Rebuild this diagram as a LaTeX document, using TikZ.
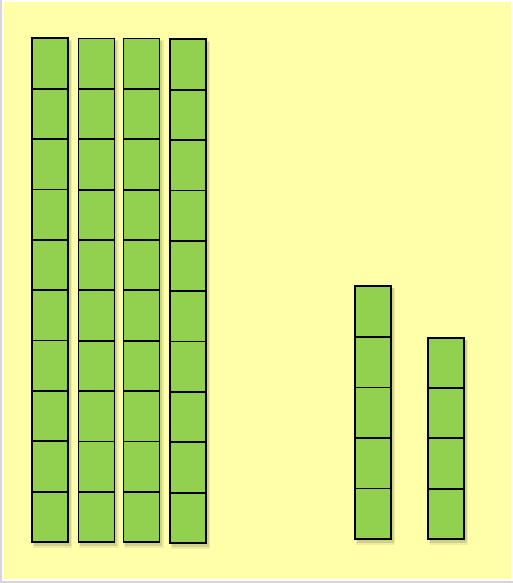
\documentclass[tikz,border=0pt]{standalone}
\definecolor{bgyellow}{HTML}{FFFFAA}
\definecolor{cubegreen}{HTML}{92D050}
\definecolor{framegrey}{HTML}{D6D6D6}
\begin{document}
\begin{tikzpicture}[x=1pt,y=-1pt,
  cube/.style={draw=black,line width=1.8pt,fill=cubegreen,minimum width=36pt,
    minimum height=50.4pt,inner sep=0pt,outer sep=0pt,anchor=north west},
  shadowsoft/.style={fill=black,opacity=0.07},
  shadowcore/.style={fill=black,opacity=0.12}]
\useasboundingbox (0,0) rectangle (513,583);
\fill[white] (0,0) rectangle (513,583);
\fill[framegrey] (0,0) rectangle (2,583);
\fill[framegrey] (0,581) rectangle (513,583);
\fill[bgyellow] (4,2) rectangle (511,579);
% shadows
\foreach \x/\t/\b in {32/38.3/542, 78.5/38.5/542.2, 123.5/38.5/542.2, 170.3/39.3/543, 355/285.7/539, 428.3/337.7/539} {
  \fill[shadowsoft] (\x+0.5,\t+2) rectangle (\x+40,\b+6);
  \fill[shadowcore] (\x+1.5,\t+2.5) rectangle (\x+38.5,\b+4);
}
% four columns of ten
\foreach \c/\x/\t in {1/32/38.3, 2/78.5/38.5, 3/123.5/38.5, 4/170.3/39.3} {
  \foreach \r in {1,...,10} {
    \node[cube] (c\c r\r) at (\x,{\t+50.37*(\r-1)}) {};
  }
}
% column of five
\node[cube,minimum height=51pt] (c5r1) at (354.6,285.7) {};
\foreach \r in {2,...,5} {
  \node[cube,minimum height=50.5pt] (c5r\r) at (355.3,{337+50.5*(\r-2)}) {};
}
% column of four
\foreach \r in {1,...,4} {
  \node[cube,minimum height=50.3pt] (c6r\r) at (428.3,{337.7+50.3*(\r-1)}) {};
}
\end{tikzpicture}
\end{document}
